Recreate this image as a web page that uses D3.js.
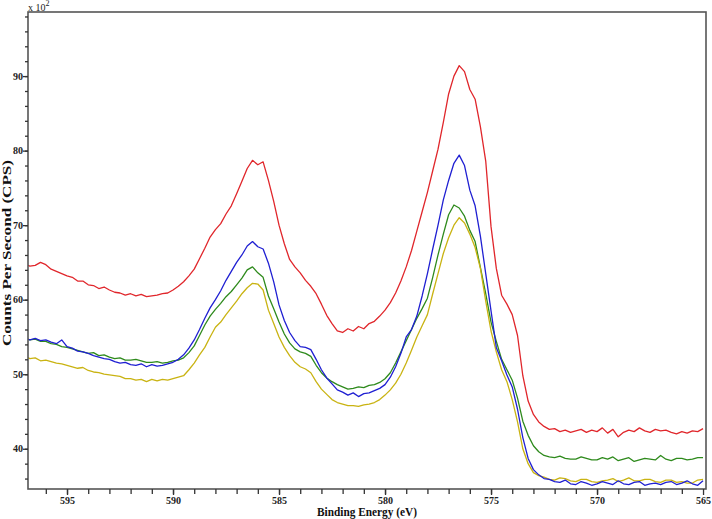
<!DOCTYPE html>
<html>
<head>
<meta charset="utf-8">
<script src="https://cdn.jsdelivr.net/npm/d3@7"></script>
<style>
  body { margin:0; background:#fff; }
  svg { display:block; }
</style>
</head>
<body>
<div id="viz"><svg></svg></div>
<script>
// binding energy sampling grid (eV): 597 down to 565, every 0.25 eV
const energy = d3.range(597, 564.99, -0.25);

// counts per second (x 10^2); each row = 2 eV
const red = [
  64.8,64.5,64.6,65.0,64.7,64.1,63.8,63.5,
  63.2,63.0,62.5,62.5,62.0,61.9,61.5,61.7,
  61.3,61.0,60.9,60.6,60.8,60.5,60.7,60.4,
  60.5,60.6,60.8,60.9,61.3,61.8,62.4,63.2,
  64.1,65.5,66.9,68.4,69.4,70.2,71.5,72.6,
  74.2,75.9,77.6,78.7,78.1,78.5,76.0,73.2,
  70.0,67.5,65.4,64.4,63.6,62.6,61.8,60.8,
  59.4,57.9,56.8,55.8,55.6,56.1,55.8,56.4,
  56.1,56.8,57.1,57.8,58.6,59.6,60.9,62.5,
  64.4,66.6,69.2,71.8,74.4,77.3,80.2,83.8,
  87.6,90.0,91.4,90.6,88.2,86.9,83.2,78.6,
  69.8,64.2,60.6,59.4,58.0,55.2,49.8,46.4,
  44.6,43.6,43.0,42.6,42.7,42.3,42.5,42.2,
  42.4,42.6,42.2,42.5,42.3,42.8,42.1,42.6,
  41.6,42.2,42.5,42.3,42.8,42.4,42.2,42.6,
  42.4,42.5,42.2,42.0,42.3,42.1,42.4,42.3,
  42.7];
const blue = [
  54.9,54.6,54.8,54.5,54.6,54.3,54.1,54.6,
  53.7,53.5,53.1,53.0,52.8,52.5,52.3,52.1,
  52.0,51.7,51.5,51.6,51.3,51.2,51.4,51.0,
  51.3,51.1,51.2,51.4,51.6,52.0,52.6,53.5,
  54.6,56.0,57.5,58.9,60.0,61.2,62.6,63.8,
  65.0,66.0,67.2,67.8,67.1,66.8,64.9,62.4,
  59.3,57.2,55.6,54.5,53.7,53.6,53.3,52.0,
  50.6,49.5,48.7,47.9,47.6,47.2,47.5,47.0,
  47.4,47.5,47.8,48.1,48.6,49.6,51.0,52.8,
  55.0,56.0,57.8,60.5,63.5,66.8,70.0,73.4,
  76.0,78.3,79.4,78.0,74.7,72.6,68.5,63.5,
  58.5,53.6,51.8,49.9,48.3,45.3,41.5,38.7,
  37.2,36.5,36.0,35.9,35.6,35.5,35.8,35.3,
  35.2,35.6,35.4,35.1,35.3,35.6,35.4,35.2,
  35.7,35.3,35.2,35.5,35.6,35.1,35.3,35.4,
  35.2,35.5,35.6,35.2,35.4,35.7,35.3,35.1,
  35.7];
const green = [
  54.8,54.6,54.7,54.4,54.4,54.1,54.0,53.7,
  53.6,53.4,53.2,53.0,52.8,52.9,52.5,52.6,
  52.3,52.1,52.2,51.9,51.9,52.0,51.8,51.6,
  51.6,51.7,51.5,51.6,51.8,51.9,52.2,52.9,
  53.8,55.2,56.6,57.8,58.7,59.5,60.4,61.1,
  62.0,62.9,64.0,64.4,63.6,63.0,60.5,58.8,
  57.0,55.4,54.2,53.4,53.0,52.8,52.4,51.2,
  50.2,49.5,49.0,48.6,48.3,48.0,48.1,48.3,
  48.2,48.5,48.6,48.9,49.4,50.2,51.5,53.0,
  54.5,56.0,57.5,58.8,60.2,63.0,66.0,68.8,
  71.4,72.7,72.3,71.2,69.3,67.8,64.3,60.8,
  57.0,54.4,52.0,50.6,49.2,46.8,43.7,41.8,
  40.4,39.6,39.1,38.9,38.8,39.0,38.7,38.6,
  38.6,38.9,38.7,38.5,38.5,38.8,38.6,38.9,
  38.4,38.6,38.8,38.3,38.5,38.7,38.6,38.5,
  39.1,38.6,38.4,38.7,38.7,38.5,38.6,38.8,
  38.8];
const yellow = [
  52.4,52.1,52.2,51.8,51.9,51.7,51.5,51.4,
  51.2,51.0,50.8,50.9,50.5,50.3,50.2,50.0,
  49.9,49.8,49.7,49.4,49.4,49.2,49.3,49.0,
  49.3,49.1,49.3,49.2,49.4,49.6,49.8,50.6,
  51.5,52.6,53.6,55.0,56.3,57.0,58.0,58.9,
  59.8,60.8,61.6,62.2,62.1,61.3,58.6,56.8,
  55.0,53.6,52.5,51.6,51.0,50.7,50.2,49.0,
  48.0,47.3,46.6,46.2,46.0,45.8,45.8,45.7,
  45.9,46.0,46.2,46.6,47.2,47.9,48.8,50.0,
  51.5,53.2,55.0,56.5,58.0,60.8,63.5,66.2,
  68.3,70.0,71.0,70.3,68.8,67.0,64.2,59.8,
  55.8,53.0,50.6,49.0,46.6,43.6,40.0,38.0,
  36.8,36.4,36.2,35.9,35.8,36.1,36.0,35.7,
  35.6,35.9,35.9,35.6,35.5,35.7,35.8,36.0,
  35.6,35.8,36.1,35.7,35.7,35.9,35.9,35.6,
  35.5,35.8,35.8,35.5,35.6,35.4,35.4,35.8,
  35.9];

const xTicks = [595,590,585,580,575,570,565];
const yTicks = [40,50,60,70,80,90];

const SETTINGS = {
  width: 712, height: 519,
  left: 28, right: 706, top: 12, bottom: 489,
  font: '"Liberation Serif","Times New Roman",serif'
};
const COLOR = { red:'#e0262b', blue:'#1f1fd2', green:'#2e8a1c', yellow:'#c9b312', axis:'#555' };

let svg = d3.select('#viz').select('svg')
  .attr('width', SETTINGS.width)
  .attr('height', SETTINGS.height);

let xScale = d3.scaleLinear()
  .domain([596.84, 564.86])
  .range([SETTINGS.left, SETTINGS.right]);
let yScale = d3.scaleLinear()
  .domain([34.6, 98.6])
  .range([SETTINGS.bottom, SETTINGS.top]);

svg.append('clipPath').attr('id','clip')
  .append('rect')
  .attr('x', SETTINGS.left).attr('y', SETTINGS.top)
  .attr('width', SETTINGS.right - SETTINGS.left)
  .attr('height', SETTINGS.bottom - SETTINGS.top);

function drawCurve(values, color){
  let line = d3.line()
    .x((d,i) => xScale(energy[i]))
    .y(d => yScale(d));
  svg.append('path')
    .datum(values)
    .attr('clip-path','url(#clip)')
    .attr('fill','none')
    .attr('stroke', color)
    .attr('stroke-width', 1.3)
    .attr('stroke-linejoin','round')
    .attr('d', line);
}
drawCurve(red, COLOR.red);
drawCurve(green, COLOR.green);
drawCurve(yellow, COLOR.yellow);
drawCurve(blue, COLOR.blue);

// frame
svg.append('rect')
  .attr('x', SETTINGS.left).attr('y', SETTINGS.top)
  .attr('width', SETTINGS.right - SETTINGS.left)
  .attr('height', SETTINGS.bottom - SETTINGS.top)
  .attr('fill','none')
  .attr('stroke', COLOR.axis)
  .attr('stroke-width', 1.6);

// x axis: minor every 1 eV, major every 5
let xMinor = svg.append('g')
  .attr('transform', `translate(0,${SETTINGS.bottom})`)
  .call(d3.axisBottom(xScale).tickValues(d3.range(566, 597, 1)).tickSize(5).tickFormat(''));
let xMajor = svg.append('g')
  .attr('transform', `translate(0,${SETTINGS.bottom})`)
  .call(d3.axisBottom(xScale).tickValues(xTicks).tickSize(6).tickPadding(2).tickFormat(d3.format('d')));

// y axis: minor every 2, major every 10
let yMinor = svg.append('g')
  .attr('transform', `translate(${SETTINGS.left},0)`)
  .call(d3.axisLeft(yScale).tickValues(d3.range(36, 99, 2)).tickSize(3).tickFormat(''));
let yMajor = svg.append('g')
  .attr('transform', `translate(${SETTINGS.left},0)`)
  .call(d3.axisLeft(yScale).tickValues(yTicks).tickSize(5).tickPadding(0).tickFormat(d3.format('d')));

[xMinor, xMajor, yMinor, yMajor].forEach(g => {
  g.select('.domain').remove();
  g.selectAll('line').attr('stroke', '#333').attr('stroke-width', 1.3);
  g.selectAll('text')
    .attr('fill','#222')
    .attr('font-family', SETTINGS.font)
    .attr('font-weight','bold')
    .attr('font-size', 10);
});

// axis titles
svg.append('text')
  .attr('x', 367).attr('y', 516)
  .attr('text-anchor','middle')
  .attr('font-family', SETTINGS.font)
  .attr('font-weight','bold')
  .attr('font-size', 12)
  .attr('textLength', 100)
  .attr('lengthAdjust', 'spacingAndGlyphs')
  .attr('fill','#111')
  .text('Binding Energy (eV)');

svg.append('text')
  .attr('transform', `translate(7,253) rotate(-90)`)
  .attr('text-anchor','middle')
  .attr('dy','0.35em')
  .attr('font-family', SETTINGS.font)
  .attr('font-weight','bold')
  .attr('font-size', 12)
  .attr('textLength', 186)
  .attr('lengthAdjust', 'spacingAndGlyphs')
  .attr('fill','#111')
  .text('Counts Per Second (CPS)');

// multiplier
let mult = svg.append('text')
  .attr('x', 28).attr('y', 11)
  .attr('font-family', SETTINGS.font)
  .attr('font-size', 10)
  .attr('fill','#222');
mult.append('tspan').text('x 10');
mult.append('tspan').attr('dy', -5).attr('font-size', 8).text('2');
</script>
</body>
</html>
